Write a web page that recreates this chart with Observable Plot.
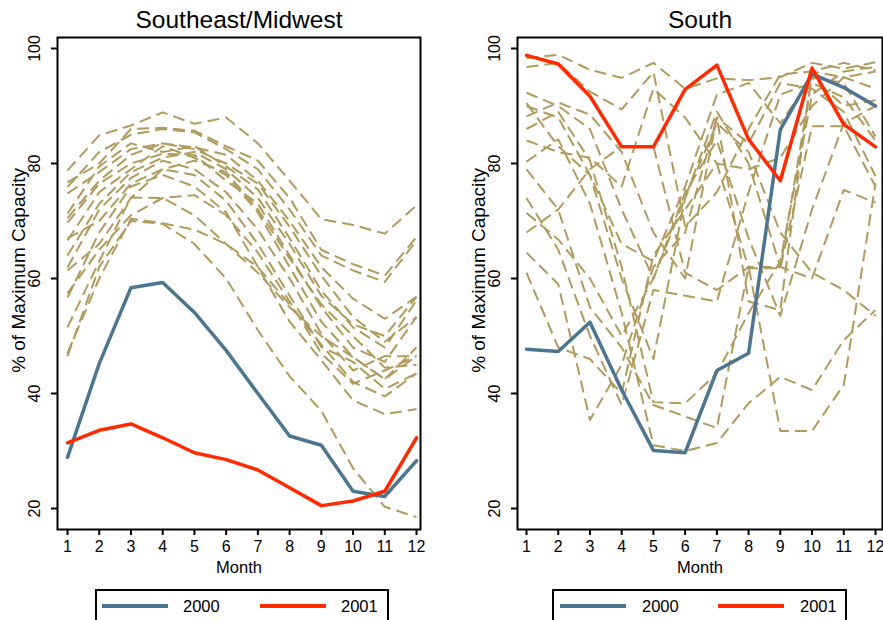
<!DOCTYPE html>
<html><head><meta charset="utf-8">
<script src="https://cdn.jsdelivr.net/npm/d3@7"></script>
<script src="https://cdn.jsdelivr.net/npm/@observablehq/plot@0.6"></script>
<style>
body{margin:0;background:#fff;font-family:"Liberation Sans",Arial,sans-serif;}
#wrap{position:relative;width:883px;height:620px;overflow:hidden;background:#fff;}
.panel{position:absolute;top:0;}
.legend{position:absolute;top:589px;height:44px;border:2px solid #000;box-sizing:border-box;background:#fff;}
.sw{position:absolute;top:13px;width:66px;height:4px;}
.lt{position:absolute;top:6px;font-size:16.5px;line-height:18px;color:#000;}
</style></head>
<body><div id="wrap">
<div id="p1" class="panel" style="left:0"></div>
<div id="p2" class="panel" style="left:441px"></div>
<div class="legend" style="left:95px;width:294px">
  <div class="sw" style="left:5px;background:#4b7590"></div><div class="lt" style="left:86px">2000</div>
  <div class="sw" style="left:163px;background:#ff2a00"></div><div class="lt" style="left:244px">2001</div>
</div>
<div class="legend" style="left:552px;width:295px">
  <div class="sw" style="left:6px;background:#4b7590"></div><div class="lt" style="left:88px">2000</div>
  <div class="sw" style="left:164px;background:#ff2a00"></div><div class="lt" style="left:246px">2001</div>
</div>
</div>
<script>
const months = [1,2,3,4,5,6,7,8,9,10,11,12];
const yTicks = [20,40,60,80,100];
const yLabel = "% of Maximum Capacity";
const xLabel = "Month";
const titles = ["Southeast/Midwest", "South"];

// Southeast/Midwest: other years (dashed)
const seOther = [
  [78.8,84.9,86.6,88.9,86.9,88.0,83.5,77.0,70.3,69.3,67.8,72.7],
  [76.7,80.0,86.0,86.2,85.7,83.0,80.5,74.0,65.0,62.5,60.5,67.2],
  [75.9,82.0,85.0,86.0,85.4,82.5,79.0,72.0,64.0,61.4,59.4,66.6],
  [74.8,78.5,82.5,83.5,82.8,81.5,77.0,70.0,62.0,56.5,53.0,56.8],
  [71.3,79.5,83.5,82.0,83.0,79.5,75.5,67.0,57.9,51.5,48.0,56.2],
  [69.7,76.5,80.0,81.7,81.5,77.0,73.0,64.0,55.0,48.0,45.5,53.3],
  [66.6,75.0,79.0,83.0,81.0,78.0,71.5,62.0,52.5,46.3,42.5,48.0],
  [61.9,72.0,77.5,80.5,79.0,75.0,68.5,60.0,50.4,44.0,46.5,46.5],
  [61.4,66.0,74.0,79.0,78.0,73.5,66.0,57.0,48.1,45.5,40.8,43.5],
  [57.4,65.0,71.0,74.0,74.5,71.0,64.5,56.0,47.0,41.7,44.0,46.5],
  [56.7,68.0,76.0,78.0,76.0,71.5,62.0,52.5,45.8,38.8,36.4,37.3],
  [51.5,63.0,74.1,74.0,71.0,66.0,61.0,55.0,50.0,46.3,42.5,46.5],
  [47.0,60.0,70.4,69.6,68.5,66.0,62.0,55.5,48.5,42.0,39.5,43.5],
  [46.5,62.0,70.0,69.5,66.0,60.0,51.0,43.0,37.0,27.0,20.3,18.5],
  [70.5,77.0,81.5,83.5,82.5,80.0,76.5,69.0,60.5,53.3,49.0,53.3],
  [64.0,73.0,78.5,81.0,82.0,79.0,74.0,66.0,57.0,52.0,50.0,56.8],
  [67.0,70.0,76.5,79.0,80.5,78.5,72.0,63.5,55.5,50.0,44.5,45.0]
];
const se2000 = [28.9,45.2,58.4,59.3,54.1,47.5,40.0,32.6,31.0,23.0,22.1,28.3];
const se2001 = [31.4,33.6,34.7,32.3,29.7,28.5,26.7,23.6,20.5,21.3,23.0,32.3];

// South: other years (dashed)
const soOther = [
  [98.3,98.9,96.3,94.9,97.5,93.0,94.8,94.5,95.0,97.5,96.5,97.6],
  [96.8,97.5,92.5,89.4,95.9,69.0,75.0,86.0,95.5,96.0,97.5,96.2],
  [92.3,90.0,86.0,72.0,60.0,74.0,89.0,80.0,62.0,95.0,94.0,84.7],
  [88.2,90.6,88.5,82.0,68.0,60.0,88.0,83.5,94.0,93.0,89.0,77.8],
  [90.0,88.0,78.0,66.0,63.0,76.0,92.0,94.0,87.0,95.0,90.0,91.0],
  [86.0,89.0,80.5,62.0,38.5,38.3,43.5,54.0,63.0,92.0,96.0,96.8],
  [80.3,84.2,73.0,54.0,31.0,30.0,31.4,38.3,42.9,40.6,49.3,54.5],
  [71.4,66.8,60.0,50.0,60.0,75.0,84.0,67.0,53.5,72.0,87.0,90.0],
  [68.0,72.0,79.0,83.0,83.0,61.0,58.0,62.0,62.0,60.0,75.4,73.2],
  [64.5,59.0,35.4,45.0,62.0,68.0,88.0,56.0,54.5,96.0,95.0,93.0],
  [61.0,48.0,46.0,40.0,64.0,72.0,80.0,61.8,61.8,86.5,86.5,76.0],
  [79.0,72.0,55.0,48.0,38.0,36.0,34.0,62.0,33.5,33.5,41.5,76.6],
  [84.0,82.0,81.0,76.0,93.0,88.0,80.0,79.0,81.0,90.0,95.0,96.0],
  [74.0,65.0,50.0,38.0,58.0,57.0,56.0,75.0,92.0,94.0,91.5,84.0],
  [90.5,83.0,78.0,60.0,46.0,74.0,87.0,82.0,68.0,61.0,58.0,53.5]
];
const so2000 = [47.7,47.3,52.4,40.6,30.1,29.7,44.0,47.0,85.9,95.6,93.2,90.0];
const so2001 = [98.8,97.3,91.7,82.9,82.9,92.9,97.1,84.2,77.0,96.6,86.8,82.9];

const tan = "#b09a5c", blue = "#4b7590", red = "#ff2a00";
const font = "'Liberation Sans', Arial, sans-serif";

function panel(title, other, s2000, s2001, width, ml, mr, il, ir) {
  const oth = other.flatMap((vals, i) => vals.map((v, j) => ({month: months[j], value: v, series: i})));
  const a = s2000.map((v, j) => ({month: months[j], value: v}));
  const b = s2001.map((v, j) => ({month: months[j], value: v}));
  return Plot.plot({
    width, height: 580,
    marginLeft: ml, marginRight: mr, marginTop: 37, marginBottom: 51,
    insetLeft: il, insetRight: ir, insetTop: 11, insetBottom: 21,
    x: {domain: [1, 12]},
    y: {domain: [20, 100]},
    style: {fontFamily: font, fontSize: "16px", color: "#000", background: "#fff"},
    marks: [
      Plot.line(oth, {x: "month", y: "value", z: "series", stroke: tan, strokeWidth: 2, strokeDasharray: "12,6", strokeLinecap: "butt"}),
      Plot.line(a, {x: "month", y: "value", stroke: blue, strokeWidth: 3.5}),
      Plot.line(b, {x: "month", y: "value", stroke: red, strokeWidth: 3.5}),
      Plot.frame({stroke: "#000", strokeWidth: 2}),
      Plot.axisX({ticks: months, tickSize: 6, tickPadding: 5, label: null, strokeWidth: 2, fontSize: 16}),
      Plot.axisY({ticks: yTicks, tickSize: 6, tickFormat: () => "", label: null, strokeWidth: 2}),
      Plot.text(yTicks, {y: d => d, text: d => String(d), frameAnchor: "left", textAnchor: "middle", lineAnchor: "middle", dx: -23, rotate: -90, fontSize: 16}),
      Plot.text([yLabel], {y: () => 61.4, text: d => d, frameAnchor: "left", textAnchor: "middle", lineAnchor: "middle", dx: -39, rotate: -90, fontSize: 19}),
      Plot.text([xLabel], {text: d => d, frameAnchor: "bottom", lineAnchor: "middle", dy: 38, fontSize: 16.5}),
      Plot.text([title], {text: d => d, frameAnchor: "top", lineAnchor: "middle", dy: -17, fontSize: 24.5})
    ]
  });
}

document.getElementById("p1").append(panel(titles[0], seOther, se2000, se2001, 441, 57, 21, 10, 4));
document.getElementById("p2").append(panel(titles[1], soOther, so2000, so2001, 442, 76, 1, 9, 7));
</script>
</body></html>
